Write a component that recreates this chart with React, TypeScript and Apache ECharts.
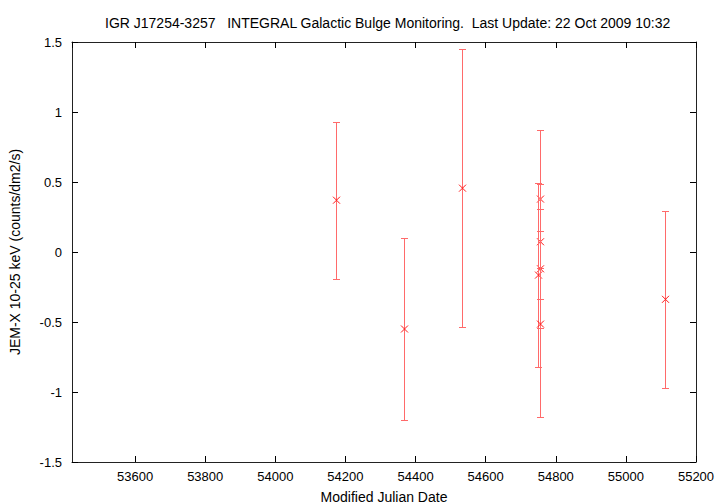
import React, { useEffect, useRef } from "react";
import * as echarts from "echarts";

const titleText = "IGR J17254-3257   INTEGRAL Galactic Bulge Monitoring.  Last Update: 22 Oct 2009 10:32";
const xName = "Modified Julian Date";
const yName = "JEM-X 10-25 keV (counts/dm2/s)";

const mjd = [54174, 54366, 54533, 54755, 54755, 54756, 54748, 54755, 55111];
const flux = [0.37, -0.55, 0.456, 0.378, 0.073, -0.12, -0.165, -0.515, -0.338];
const fluxErr = [0.56, 0.65, 0.995, 0.49, 0.41, 0.425, 0.655, 0.667, 0.633];

const xMin = 53420;
const xMax = 55200;
const yMin = -1.5;
const yMax = 1.5;

const FONT = "Liberation Sans";

export default function App() {
  const ref = useRef<HTMLDivElement>(null);
  useEffect(() => {
    document.body.style.margin = "0";
    const chart = echarts.init(ref.current!, null, { renderer: "svg" });
    const data = mjd.map((m, i) => [m, flux[i], fluxErr[i]]);
    const labelStyle = { fontFamily: FONT, fontSize: 13, color: "#000" };
    const nameStyle = { fontFamily: FONT, fontSize: 14, color: "#000" };
    const axisLine = { show: true, onZero: false, lineStyle: { color: "#222", width: 1 } };
    const axisTick = { show: true, inside: true, length: 6, lineStyle: { color: "#000", width: 1 } };
    const xFmt = (v: number) => (v % 200 === 0 ? String(v) : "");
    const option: any = {
      animation: false,
      title: {
        text: titleText,
        left: 100,
        top: 11,
        textStyle: { fontFamily: FONT, fontSize: 14, fontWeight: "normal", color: "#000" },
      },
      grid: { left: 72, right: 24, top: 42, bottom: 42, outerBoundsMode: "none", containLabel: false },
      xAxis: [
        {
          type: "value",
          min: xMin,
          max: xMax,
          splitNumber: 9,
          minInterval: 200,
          maxInterval: 200,
          position: "bottom",
          axisLine,
          axisTick,
          splitLine: { show: false },
          axisLabel: { ...labelStyle, margin: 8, formatter: xFmt, showMinLabel: false },
          name: xName,
          nameLocation: "middle",
          nameGap: 28,
          nameTextStyle: nameStyle,
        },
        {
          type: "value",
          min: xMin,
          max: xMax,
          splitNumber: 9,
          minInterval: 200,
          maxInterval: 200,
          position: "top",
          axisLine,
          axisTick,
          splitLine: { show: false },
          axisLabel: { show: false },
        },
      ],
      yAxis: [
        {
          type: "value",
          min: yMin,
          max: yMax,
          interval: 0.5,
          position: "left",
          axisLine,
          axisTick,
          splitLine: { show: false },
          axisLabel: { ...labelStyle, margin: 10 },
          name: yName,
          nameLocation: "middle",
          nameGap: 50,
          nameTextStyle: nameStyle,
        },
        {
          type: "value",
          min: yMin,
          max: yMax,
          interval: 0.5,
          position: "right",
          axisLine,
          axisTick,
          splitLine: { show: false },
          axisLabel: { show: false },
        },
      ],
      series: [
        {
          type: "custom",
          xAxisIndex: 0,
          yAxisIndex: 0,
          encode: { x: 0, y: 1 },
          data,
          renderItem: (params: any, api: any) => {
            const x = api.value(0);
            const y = api.value(1);
            const e = api.value(2);
            const c = api.coord([x, y]);
            const hi = api.coord([x, y + e]);
            const lo = api.coord([x, y - e]);
            const px = Math.round(c[0]) + 0.5;
            const cy = c[1];
            const hy = Math.round(hi[1]) + 0.5;
            const ly = Math.round(lo[1]) + 0.5;
            const cap = 3.5;
            const s = 3.5;
            const bar = { stroke: "#ff6a6a", lineWidth: 1 };
            const mk = { stroke: "#ff1a1a", lineWidth: 1 };
            return {
              type: "group",
              children: [
                { type: "line", shape: { x1: px, y1: hy, x2: px, y2: ly }, style: bar },
                { type: "line", shape: { x1: px - cap, y1: hy, x2: px + cap, y2: hy }, style: bar },
                { type: "line", shape: { x1: px - cap, y1: ly, x2: px + cap, y2: ly }, style: bar },
                { type: "line", shape: { x1: px - s, y1: cy - s, x2: px + s, y2: cy + s }, style: mk },
                { type: "line", shape: { x1: px - s, y1: cy + s, x2: px + s, y2: cy - s }, style: mk },
              ],
            };
          },
        },
      ],
    };
    chart.setOption(option);
    return () => chart.dispose();
  }, []);
  return <div ref={ref} style={{ width: 720, height: 504 }} />;
}
